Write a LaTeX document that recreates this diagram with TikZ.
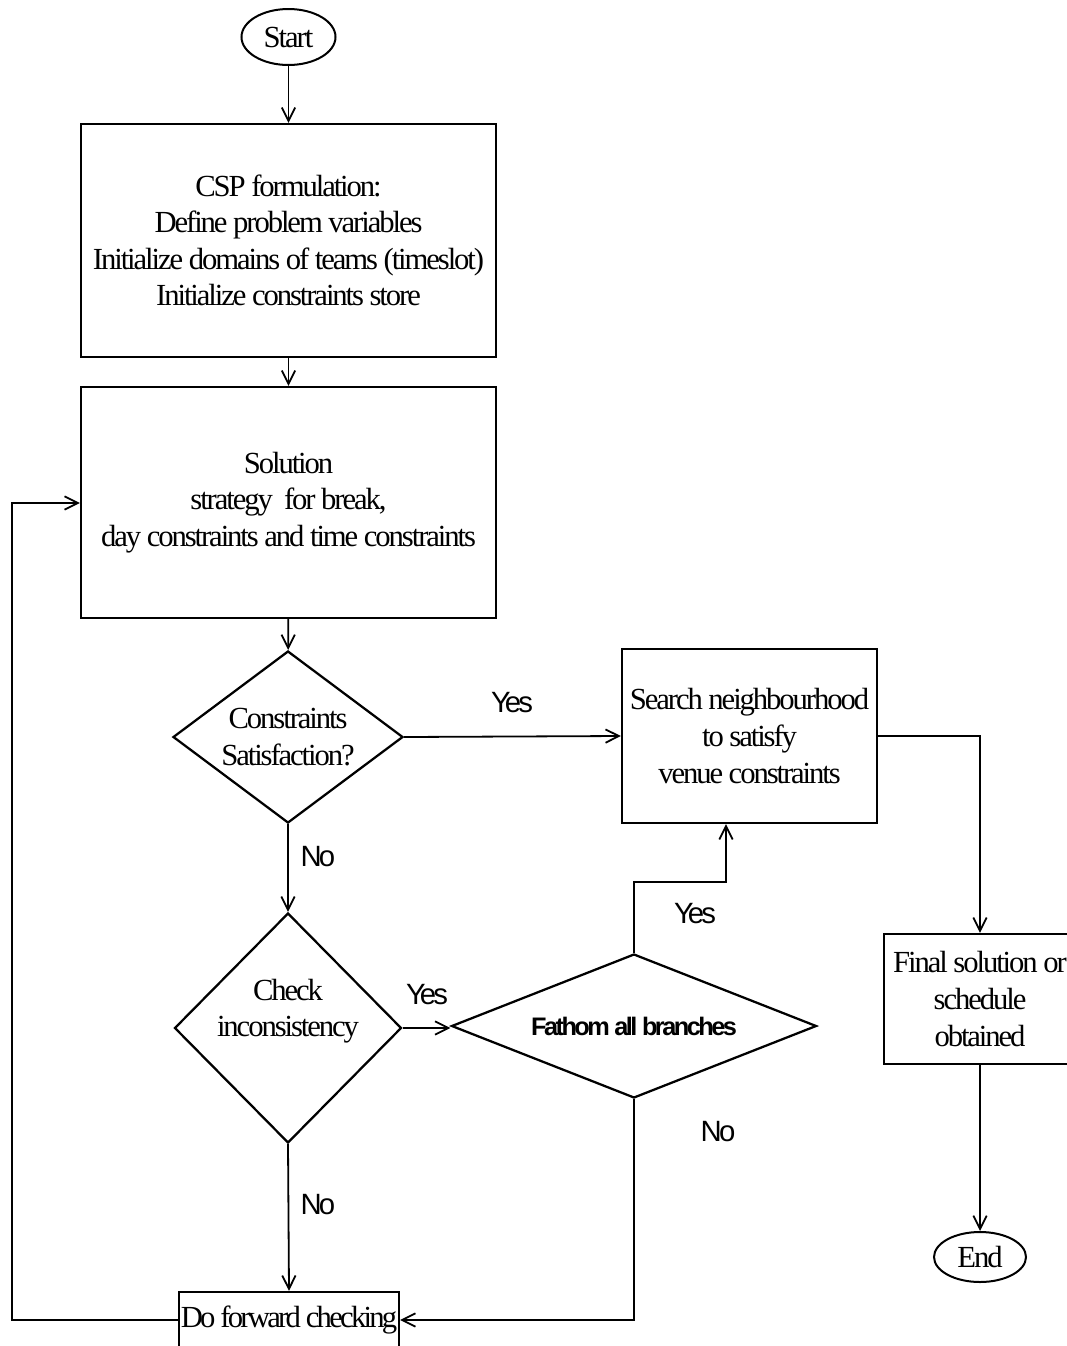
\documentclass[tikz,border=0pt]{standalone}
\usepackage{fontspec}
\setmainfont{Liberation Serif}[LetterSpace=-6.8]
\newfontfamily\labfont{Liberation Sans}[LetterSpace=-10]
\newfontfamily\tightserif{Liberation Serif}[LetterSpace=-9]
\usetikzlibrary{shapes.geometric,arrows.meta}
\newdimen\pxu \pxu=0.75pt
\newcommand\mainsz{\fontsize{23}{27.4}\selectfont}
\begin{document}
\begin{tikzpicture}[x=0.75pt,y=-0.75pt,
  box/.style={draw, rectangle, line width=1.7pt, inner sep=0pt, align=center, font=\mainsz},
  term/.style={draw, ellipse, line width=1.5pt, inner sep=0pt, font=\mainsz},
  dec/.style={draw, diamond, line width=1.7pt, inner sep=0pt, align=center, font=\mainsz},
  dectext/.style={align=center, inner sep=0pt, font=\mainsz},
  conn/.style={line width=1.35pt},
  arr/.style={conn, -{Straight Barb[length=10pt,width=10pt]}},
  lab/.style={inner sep=0pt, font=\labfont\fontsize{22}{26}\selectfont}]
\useasboundingbox (0,0) rectangle (1067,1346);
\clip (0,0) rectangle (1067,1346);
\fill[white] (0,0) rectangle (1067,1346);

% terminals
\node[term, minimum width=94*\pxu, minimum height=56*\pxu] (start) at (288.5,37) {Start};
\node[term, minimum width=92*\pxu, minimum height=50*\pxu] (end) at (980,1257) {End};

% process boxes
\node[box, minimum width=415*\pxu, minimum height=233*\pxu] (b1) at (288.5,240.5)
  {CSP formulation:\\Define problem variables\\Initialize domains of teams (timeslot)\\Initialize constraints store};
\node[box, minimum width=415*\pxu, minimum height=231*\pxu] (b2) at (288.5,502.5)
  {Solution\\strategy\ \ for break,\\day constraints and time constraints};
\node[box, minimum width=255*\pxu, minimum height=174*\pxu] (b3) at (749.5,736)
  {Search neighbourhood\\to satisfy\\venue constraints};
\node[box, minimum width=192*\pxu, minimum height=130*\pxu] (b4) at (980,999)
  {Final solution or\\schedule\\obtained};
\node[box, minimum width=220*\pxu, minimum height=56*\pxu,
  font=\tightserif\mainsz] (b5) at (289,1320)
  {Do forward checking};

% decisions
\node[dec, aspect=1.34, minimum width=230*\pxu, minimum height=172*\pxu] (d1) at (288,737)
  {Constraints\\Satisfaction?};
\node[dec, aspect=1, minimum width=227*\pxu, minimum height=230*\pxu] (d2) at (288,1028) {};
\node[dectext] (d2t) at (288,1011) {Check\\inconsistency};
\node[dec, aspect=2.5, minimum width=365*\pxu, minimum height=144*\pxu,
  font=\labfont\bfseries\fontsize{19}{22}\selectfont] (d3) at (634,1026) {Fathom all branches};

% helper coordinates
\coordinate (c1) at (726,882);
\coordinate (c2) at (12,503);

% connectors
\draw[arr] (start) -- (b1);
\draw[arr] (b1) -- (b2);
\draw[arr] (b2) -- (d1);
\draw[arr] (d1.east) -- (b3.west);
\draw[arr] (d1.south) -- (d2.north);
\draw[arr] (d2.east) -- (d2.east -| d3.west);
\draw[arr] (d3.north) |- (c1) -- (c1 |- b3.south);
\draw[arr] (d3.south) |- (b5.east);
\draw[arr] (d2.south) -- (b5.north);
\draw[arr] (b5.west) -| (c2) -- (c2 -| b2.west);
\draw[arr] (b3.east) -| (b4.north);
\draw[arr] (b4.south) -- (end.north);

% labels
\node[lab] (y1) at (512,703) {Yes};
\node[lab] (n1) at (318,857) {No};
\node[lab] (y2) at (427,995) {Yes};
\node[lab] (y3) at (695,914) {Yes};
\node[lab] (n2) at (718,1132) {No};
\node[lab] (n3) at (318,1205) {No};
\end{tikzpicture}
\end{document}
